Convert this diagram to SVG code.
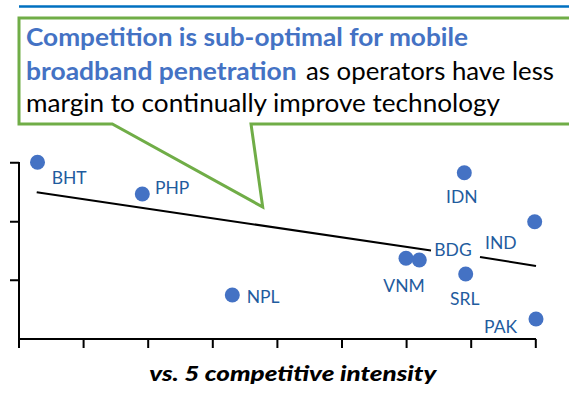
<svg xmlns="http://www.w3.org/2000/svg" width="569" height="393" viewBox="0 0 569 393">
  <style>
    .axis { stroke: #000; stroke-width: 2; fill: none; }
    .trend { stroke: #000; stroke-width: 2; fill: none; }
    .dot { fill: #4472C4; }
    .lbl { font-family: Lato, "Open Sans", "Liberation Sans", sans-serif; font-size: 17.5px; fill: #1F5C9E; }
    .call { font-family: Lato, "Open Sans", "Liberation Sans", sans-serif; font-size: 25.5px; }
    .hl { fill: #4472C4; font-weight: bold; }
    .plain { fill: #000; }
    .title { font-family: Lato, "Open Sans", "Liberation Sans", sans-serif; font-size: 20px; font-weight: 900; font-style: italic; fill: #000; }
  </style>

  <!-- header rule -->
  <line x1="19" y1="6.5" x2="569" y2="6.5" stroke="#0070C0" stroke-width="2.5"/>

  <!-- axes -->
  <g id="axes">
    <path class="axis" d="M19 162 V339 H536"/>
    <path class="axis" d="M10 162.7 H19 M10 221.7 H19 M10 280.3 H19"/>
    <path class="axis" d="M19 339 V348 M83.6 339 V348 M148.2 339 V348 M212.8 339 V348 M277.4 339 V348 M342 339 V348 M406.6 339 V348 M471.2 339 V348 M535.8 339 V348"/>
  </g>

  <!-- connectors: fitted trend line, broken around the BDG label -->
  <g id="connectors">
    <line class="trend" x1="36.7" y1="192.3" x2="431" y2="250.5"/>
    <line class="trend" x1="480" y1="257" x2="536" y2="266"/>
  </g>

  <!-- data points -->
  <g id="BHT"><circle class="dot" cx="37.5" cy="162.3" r="7.5"/><text class="lbl" x="51.7" y="184">BHT</text></g>
  <g id="PHP"><circle class="dot" cx="142.3" cy="194" r="7.5"/><text class="lbl" x="155" y="194">PHP</text></g>
  <g id="NPL"><circle class="dot" cx="232.3" cy="295" r="7.5"/><text class="lbl" x="246.7" y="302.5">NPL</text></g>
  <g id="VNM"><circle class="dot" cx="406" cy="258.3" r="7.5"/><circle class="dot" cx="419.3" cy="260" r="7.5"/><text class="lbl" x="383.3" y="291.7">VNM</text></g>
  <g id="BDG"><text class="lbl" x="434.3" y="256">BDG</text></g>
  <g id="IDN"><circle class="dot" cx="464.3" cy="172.7" r="7.5"/><text class="lbl" x="446" y="203.3">IDN</text></g>
  <g id="SRL"><circle class="dot" cx="465.7" cy="274" r="7.5"/><text class="lbl" x="450" y="305">SRL</text></g>
  <g id="IND"><circle class="dot" cx="534.7" cy="221.7" r="7.5"/><text class="lbl" x="485" y="249.3">IND</text></g>
  <g id="PAK"><circle class="dot" cx="536" cy="319" r="7.5"/><text class="lbl" x="484" y="333.3">PAK</text></g>

  <!-- callout -->
  <g id="callout">
    <path d="M19 18 H575 V124 H251 L262.7 207 L112.3 124 H19 Z" fill="#fff" stroke="#70AD47" stroke-width="3" stroke-linejoin="miter"/>
    <text class="call hl" x="26" y="45.7" textLength="442" lengthAdjust="spacingAndGlyphs">Competition is sub-optimal for mobile</text>
    <text class="call hl" x="26" y="79.5" textLength="270.7" lengthAdjust="spacingAndGlyphs">broadband penetration</text>
    <text class="call plain" x="306" y="79.5" textLength="248" lengthAdjust="spacingAndGlyphs">as operators have less</text>
    <text class="call plain" x="26" y="111.7" textLength="474" lengthAdjust="spacingAndGlyphs">margin to continually improve technology</text>
  </g>

  <!-- axis title -->
  <text class="title" x="149.3" y="381" textLength="287" lengthAdjust="spacingAndGlyphs">vs. 5 competitive intensity</text>
</svg>
